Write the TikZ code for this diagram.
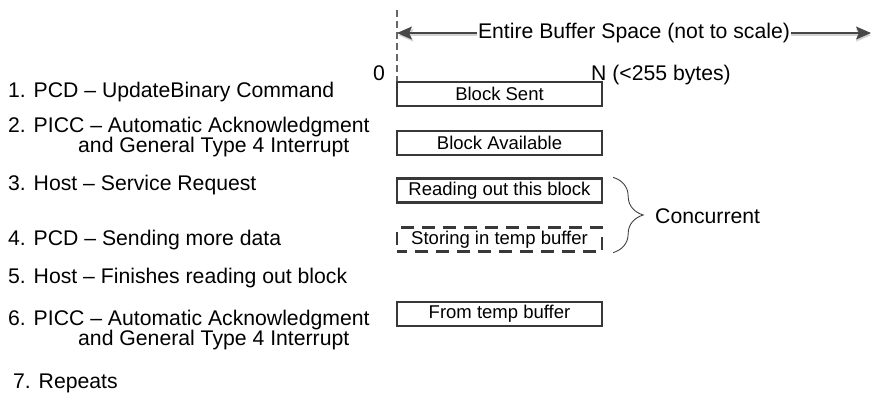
\documentclass[tikz,border=0pt]{standalone}
\usepackage{fontspec}
\setmainfont{Liberation Sans}
\usepackage{tikz}
\usetikzlibrary{arrows.meta, decorations.pathreplacing, positioning, calc}
\definecolor{boxline}{HTML}{383838}

\begin{document}
\begin{tikzpicture}[x=1pt, y=-1pt,
    every node/.style={inner sep=0pt, font=\fontsize{21.2}{25}\selectfont},
    lbl/.style={anchor=base west},
    blk/.style={draw=boxline, line width=2.3pt, minimum width=205pt, minimum height=24pt,
        font=\fontsize{18.5}{22}\selectfont},
    blkdash/.style={blk, dash pattern=on 13pt off 8pt, dash phase=3pt}]
                        \useasboundingbox (0, 0) rectangle (871, 394);
                        % buffer scale
                        \coordinate (z) at (397, 33);
                        \coordinate (e) at (871, 33);
                        \draw[black!60, dash pattern=on 7pt off 4pt, line width=1.1pt] (397, 10) -- (397, 82);
                        \draw[gray!35, line width=1.6pt, {Stealth[length=15pt, width=13pt, inset=3pt]}-{Stealth[length=15pt, width=13pt, inset=3pt]}] ($(z)+(1.5,2.2)$) -- ($(e)+(0,2.2)$);
                        \draw[black!72, line width=1.4pt, {Stealth[length=15pt, width=13pt, inset=3pt]}-{Stealth[length=15pt, width=13pt, inset=3pt]}] (z) -- (e)
                            node[midway, fill=white, text=black, inner xsep=1pt, inner ysep=3pt] (scale) {Entire Buffer Space (not to scale)};
                        \node[anchor=base east] (zero) at (385, 80) {0};
                        \node[anchor=base west] (n) at (591, 80) {N (<255 bytes)};
                        % steps
                        \node[lbl] (l1) at (8, 97) {1. PCD – UpdateBinary Command};
                        \node[lbl] (l2) at (8, 132) {2. PICC – Automatic Acknowledgment};
                        \node[lbl] (l2x) at (78, 152) {and General Type 4 Interrupt};
                        \node[lbl] (l3) at (8, 190) {3. Host – Service Request};
                        \node[lbl] (l4) at (8, 245) {4. PCD – Sending more data};
                        \node[lbl] (l5) at (8, 283) {5. Host – Finishes reading out block};
                        \node[lbl] (l6) at (8, 325) {6. PICC – Automatic Acknowledgment};
                        \node[lbl] (l6x) at (78, 345) {and General Type 4 Interrupt};
                        \node[lbl] (l7) at (13, 388) {7. Repeats};
                        % blocks
                        \node[blk] (b1) at (499.5, 94) {Block Sent};
                        \node[blk] (b2) at (499.5, 143) {Block Available};
                        \node[blk] (b3) at (499.5, 190.5) {Reading out this block};
                        \node[blkdash] (b4) at (499.5, 239.5) {Storing in temp buffer};
                        \node[blk] (b5) at (499.5, 314) {From temp buffer};
                        % concurrent
                        \draw[black!75, line width=0.9pt, decorate, decoration={brace, amplitude=30pt, aspect=0.5}]
                            ($(b3.north east)+(10,0)$) -- ($(b4.south east)+(10,0)$);
                        \node[anchor=base west] (conc) at (655, 223) {Concurrent};
                    \end{tikzpicture}
\end{document}
